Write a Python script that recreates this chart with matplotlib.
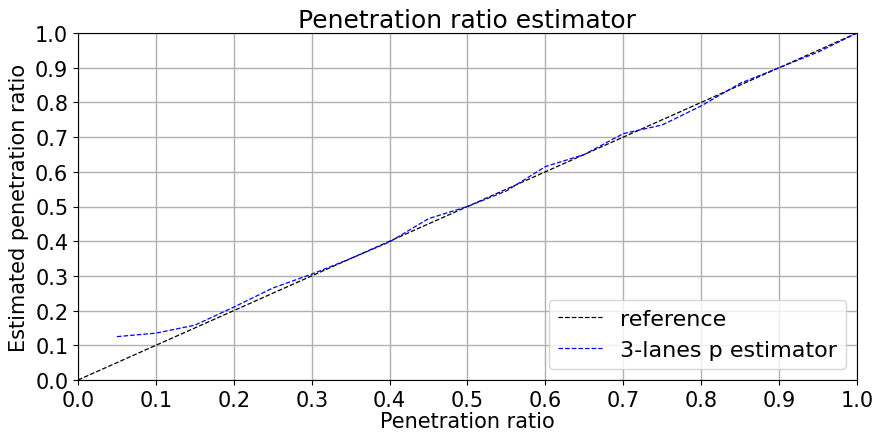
import matplotlib
matplotlib.use("Agg")
import matplotlib.pyplot as plt
import numpy as np

ref_x = [0.0, 1.0]
ref_y = [0.0, 1.0]
est_x = [0.05, 0.10, 0.15, 0.20, 0.25, 0.30, 0.35, 0.40, 0.45, 0.50,
         0.55, 0.60, 0.65, 0.70, 0.75, 0.80, 0.85, 0.90, 0.95, 1.00]
est_y = [0.125, 0.135, 0.158, 0.21, 0.265, 0.305, 0.35, 0.398, 0.465, 0.50,
         0.545, 0.615, 0.65, 0.71, 0.735, 0.79, 0.855, 0.90, 0.945, 1.0]
ticks = [0.0, 0.1, 0.2, 0.3, 0.4, 0.5, 0.6, 0.7, 0.8, 0.9, 1.0]

fig = plt.figure(figsize=(8.78, 4.35), dpi=100)
ax = fig.add_axes([78/878, 1-381/435, (857-78)/878, (381-34)/435])
ax.plot(ref_x, ref_y, 'k--', lw=0.9, label='reference')
ax.plot(est_x, est_y, '--', color='blue', lw=0.9, label='3-lanes p estimator')
ax.set_xlim(0, 1)
ax.set_ylim(0, 1)
ax.set_xticks(ticks)
ax.set_yticks(ticks)
ax.set_xticklabels([f"{t:.1f}" for t in ticks])
ax.set_yticklabels([f"{t:.1f}" for t in ticks])
ax.tick_params(labelsize=15)
ax.grid(True, color='#b0b0b0', lw=1)
ax.set_axisbelow(True)
ax.set_title('Penetration ratio estimator', fontsize=18, pad=4)
ax.set_xlabel('Penetration ratio', fontsize=15, labelpad=1)
ax.set_ylabel('Estimated penetration ratio', fontsize=15)
ax.legend(loc='lower right', fontsize=16)
fig.savefig('out.png', dpi=100)
